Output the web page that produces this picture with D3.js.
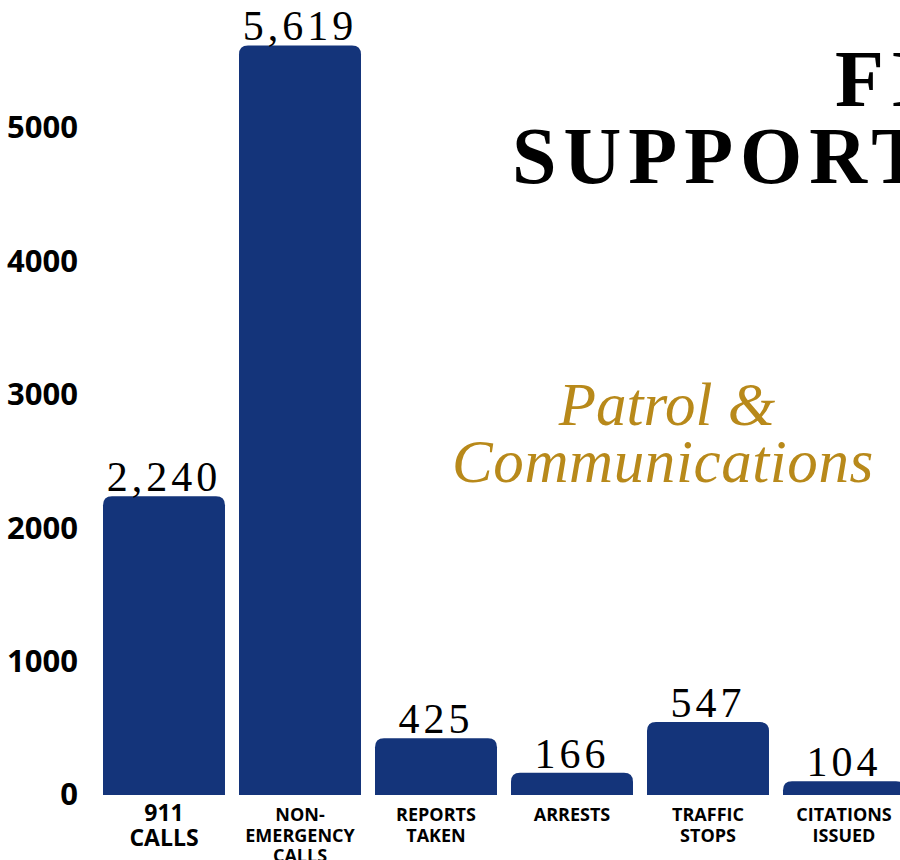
<!DOCTYPE html>
<html>
<head>
<meta charset="utf-8">
<script src="https://cdn.jsdelivr.net/npm/d3@7"></script>
<style>
  html, body { margin: 0; padding: 0; background: #ffffff; overflow: hidden; }
  svg { display: block; }
</style>
</head>
<body>
<svg id="chart" width="900" height="860"></svg>
<script>
// Activity counts for the Patrol & Communications division
const categories = [
  ["911", "CALLS"],
  ["NON-", "EMERGENCY", "CALLS"],
  ["REPORTS", "TAKEN"],
  ["ARRESTS"],
  ["TRAFFIC", "STOPS"],
  ["CITATIONS", "ISSUED"]
];
const values = [2240, 5619, 425, 166, 547, 104];
const yTicks = [0, 1000, 2000, 3000, 4000, 5000];
const titleLines = ["FIELD", "SUPPORT SERVICES"];
const subtitleLines = ["Patrol &", "Communications"];

const svg = d3.select("#chart");
const barColor = "#14347a";
const gold = "#b8891a";

const x = d3.scaleBand()
  .domain(d3.range(categories.length))
  .range([96, 912])
  .paddingInner(0.103)
  .paddingOuter(0.0515);

const y = d3.scaleLinear()
  .domain([0, 5000])
  .range([795, 128]);

// Title block (runs off the right edge)
const title = svg.append("g")
  .attr("font-family", "'Liberation Serif', serif")
  .attr("font-weight", "bold")
  .attr("font-size", 80)
  .attr("letter-spacing", 7)
  .attr("fill", "#000");
title.append("text").attr("x", 835).attr("y", 106).text(titleLines[0]);
title.append("text").attr("x", 512).attr("y", 183).text(titleLines[1]);

// Division name in gold italics
const sub = svg.append("g")
  .attr("font-family", "'Liberation Serif', serif")
  .attr("font-style", "italic")
  .attr("font-size", 61)
  .attr("fill", gold)
  .attr("text-anchor", "middle");
sub.append("text").attr("x", 667).attr("y", 425).text(subtitleLines[0]);
sub.append("text").attr("x", 663).attr("y", 482).attr("letter-spacing", 0.6).text(subtitleLines[1]);

// Y axis: labels only
const yAxis = svg.append("g")
  .attr("transform", "translate(78,0)")
  .call(d3.axisLeft(y).tickValues(yTicks).tickSize(0).tickPadding(0).tickFormat(d3.format("d")));
yAxis.select(".domain").remove();
yAxis.selectAll("text")
  .attr("font-family", "'Open Sans', sans-serif")
  .attr("font-weight", "bold")
  .attr("font-size", 31)
  .attr("fill", "#000");

// Bars with rounded top corners
function topRoundedBar(x0, y0, w, h, r) {
  r = Math.min(r, h, w / 2);
  return `M${x0},${y0 + h}V${y0 + r}Q${x0},${y0} ${x0 + r},${y0}` +
         `H${x0 + w - r}Q${x0 + w},${y0} ${x0 + w},${y0 + r}V${y0 + h}Z`;
}

svg.append("g").selectAll("path")
  .data(values)
  .join("path")
  .attr("fill", barColor)
  .attr("d", (d, i) => topRoundedBar(x(i), y(d), x.bandwidth(), y(0) - y(d), 9));

// Value labels
svg.append("g").selectAll("text")
  .data(values)
  .join("text")
  .attr("x", (d, i) => x(i) + x.bandwidth() / 2)
  .attr("y", d => y(d) - 5)
  .attr("text-anchor", "middle")
  .attr("font-family", "'Liberation Serif', serif")
  .attr("font-size", 42)
  .attr("letter-spacing", 4)
  .attr("fill", "#000")
  .text(d => d3.format(",")(d));

// Category labels under each bar
const catG = svg.append("g")
  .attr("font-family", "'Open Sans', sans-serif")
  .attr("font-weight", "bold")
  .attr("fill", "#000")
  .attr("text-anchor", "middle");
categories.forEach((lines, i) => {
  const size = i === 0 ? 23 : 18;
  const lh = i === 0 ? 25 : 20.5;
  const t = catG.append("text")
    .attr("font-size", size)
    .attr("x", x(i) + x.bandwidth() / 2)
    .attr("y", 821);
  lines.forEach((ln, k) => {
    t.append("tspan")
      .attr("x", x(i) + x.bandwidth() / 2)
      .attr("dy", k === 0 ? 0 : lh)
      .text(ln);
  });
});
</script>
</body>
</html>
